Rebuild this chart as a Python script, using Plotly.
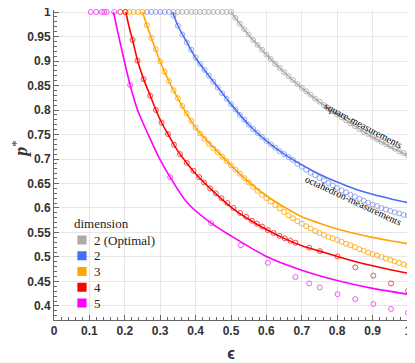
import plotly.graph_objects as go

# theoretical curves
eps_sq = [0.5, 0.525, 0.55, 0.575, 0.6, 0.65, 0.7, 0.75, 0.8, 0.85, 0.9, 0.95, 1.0]
p_sq = [1.0, 0.976, 0.953, 0.933, 0.913, 0.877, 0.845, 0.816, 0.791, 0.767, 0.745, 0.725, 0.707]

eps_d2 = [0.335, 0.35, 0.377, 0.405, 0.443, 0.5, 0.55, 0.6, 0.65, 0.7, 0.75, 0.8, 0.85, 0.9, 0.95, 1.0]
p_d2 = [1.0, 0.972, 0.936, 0.901, 0.865, 0.812, 0.770, 0.737, 0.710, 0.688, 0.669, 0.653, 0.639, 0.628, 0.619, 0.611]

eps_d3 = [0.25, 0.26, 0.278, 0.302, 0.33, 0.363, 0.405, 0.462, 0.5, 0.55, 0.6, 0.65, 0.7, 0.75, 0.8, 0.85, 0.9, 0.95, 1.0]
p_d3 = [1.0, 0.978, 0.941, 0.895, 0.851, 0.807, 0.759, 0.715, 0.687, 0.653, 0.625, 0.602, 0.582, 0.569, 0.557, 0.548, 0.540, 0.533, 0.527]

eps_d4 = [0.203, 0.212, 0.222, 0.236, 0.253, 0.272, 0.288, 0.304, 0.322, 0.339, 0.356, 0.375, 0.4, 0.45, 0.5,
          0.55, 0.6, 0.65, 0.7, 0.75, 0.8, 0.85, 0.9, 0.95, 1.0]
p_d4 = [1.0, 0.97, 0.943, 0.901, 0.863, 0.829, 0.8, 0.774, 0.751, 0.729, 0.71, 0.692, 0.670, 0.634, 0.602,
        0.577, 0.556, 0.538, 0.523, 0.512, 0.501, 0.491, 0.482, 0.474, 0.467]

eps_d5 = [0.168, 0.179, 0.198, 0.215, 0.236, 0.273, 0.3, 0.328, 0.377, 0.444, 0.5, 0.6, 0.7, 0.8, 0.9, 1.0]
p_d5 = [1.0, 0.963, 0.902, 0.851, 0.8, 0.739, 0.698, 0.663, 0.61, 0.569, 0.543, 0.501, 0.473, 0.452, 0.436, 0.424]

# measurements
eps_m_sq = [0.3375, 0.35, 0.3625, 0.375, 0.3875, 0.4, 0.4125, 0.425, 0.4375, 0.45, 0.4625, 0.475, 0.4875, 0.5,
            0.5125, 0.525, 0.5375, 0.55, 0.5625, 0.575, 0.5875, 0.6, 0.6125, 0.625, 0.6375, 0.65, 0.6625, 0.675,
            0.6875, 0.7, 0.7125, 0.725, 0.7375, 0.75, 0.7625, 0.775, 0.7875, 0.8, 0.8125, 0.825, 0.8375, 0.85,
            0.8625, 0.875, 0.8875, 0.9, 0.9125, 0.925, 0.9375, 0.95, 0.9625, 0.975, 0.9875, 1.0]
p_m_sq = [1, 1, 1, 1, 1, 1, 1, 1, 1, 1, 1, 1, 1, 1,
          0.988, 0.976, 0.965, 0.954, 0.943, 0.933, 0.923, 0.913, 0.904, 0.894, 0.886, 0.877, 0.869, 0.861,
          0.853, 0.845, 0.838, 0.831, 0.823, 0.817, 0.810, 0.803, 0.797, 0.791, 0.785, 0.779, 0.773, 0.767,
          0.761, 0.756, 0.751, 0.745, 0.740, 0.735, 0.730, 0.726, 0.721, 0.716, 0.712, 0.707]

eps_m_oct = [0.2625, 0.275, 0.2875, 0.3, 0.3125, 0.325, 0.3375, 0.35, 0.3625, 0.375, 0.3875, 0.4, 0.4125, 0.425,
             0.4375, 0.45, 0.4625, 0.475, 0.4875, 0.5, 0.5125, 0.525, 0.5375, 0.55, 0.5625, 0.575, 0.5875, 0.6,
             0.6125, 0.625, 0.6375, 0.65, 0.6625, 0.675, 0.6875, 0.7, 0.7125, 0.725, 0.7375, 0.75, 0.7625, 0.775,
             0.7875, 0.8, 0.8125, 0.825, 0.8375, 0.85, 0.8625, 0.875, 0.8875, 0.9, 0.9125, 0.925, 0.9375, 0.95,
             0.9625, 0.975, 0.9875, 1.0]
p_m_oct = [1, 1, 1, 1, 1, 1, 0.993, 0.972, 0.954, 0.938, 0.923, 0.907, 0.894, 0.882,
           0.870, 0.858, 0.846, 0.834, 0.823, 0.812, 0.801, 0.790, 0.780, 0.770, 0.761, 0.753, 0.745, 0.737,
           0.730, 0.723, 0.716, 0.710, 0.704, 0.698, 0.690, 0.684, 0.678, 0.672, 0.667, 0.661, 0.656, 0.651,
           0.646, 0.641, 0.636, 0.632, 0.627, 0.623, 0.619, 0.615, 0.611, 0.607, 0.604, 0.600, 0.597, 0.594,
           0.591, 0.589, 0.586, 0.584]

eps_m3 = [0.2, 0.2125, 0.225, 0.2375, 0.25, 0.2625, 0.275, 0.2875, 0.3, 0.3125, 0.325, 0.3375, 0.35, 0.3625,
          0.375, 0.3875, 0.4, 0.4125, 0.425, 0.4375, 0.45, 0.4625, 0.475, 0.4875, 0.5, 0.5125, 0.525, 0.5375,
          0.55, 0.5625, 0.575, 0.5875, 0.6, 0.6125, 0.625, 0.6375, 0.65, 0.6625, 0.675, 0.6875, 0.7, 0.7125,
          0.725, 0.7375, 0.75, 0.7625, 0.775, 0.7875, 0.8, 0.8125, 0.825, 0.8375, 0.85, 0.8625, 0.875, 0.8875,
          0.9, 0.9125, 0.925, 0.9375, 0.95, 0.9625, 0.975, 0.9875, 1.0]
p_m3 = [1, 1, 1, 1, 1, 0.973, 0.947, 0.924, 0.899, 0.878, 0.859, 0.840, 0.824, 0.808,
        0.793, 0.778, 0.764, 0.752, 0.741, 0.731, 0.722, 0.714, 0.705, 0.696, 0.687, 0.678, 0.670, 0.661,
        0.652, 0.643, 0.635, 0.627, 0.620, 0.613, 0.606, 0.599, 0.592, 0.585, 0.579, 0.573, 0.568, 0.563,
        0.558, 0.553, 0.549, 0.545, 0.541, 0.538, 0.535, 0.531, 0.527, 0.524, 0.520, 0.516, 0.513, 0.509,
        0.506, 0.503, 0.500, 0.497, 0.494, 0.491, 0.488, 0.485, 0.482]

eps_m4 = [0.187, 0.202, 0.222, 0.236, 0.253, 0.272, 0.288, 0.304, 0.322, 0.339, 0.356, 0.375, 0.394, 0.41, 0.424,
          0.441, 0.457, 0.473, 0.49, 0.507, 0.526, 0.543, 0.559, 0.573, 0.588, 0.604, 0.62, 0.637, 0.652, 0.668,
          0.682, 0.721, 0.751, 0.801, 0.851, 0.902, 0.952, 1.0]
p_m4 = [1, 1, 0.943, 0.901, 0.863, 0.829, 0.800, 0.774, 0.751, 0.729, 0.710, 0.692, 0.676, 0.663, 0.652,
        0.640, 0.630, 0.620, 0.610, 0.600, 0.590, 0.582, 0.574, 0.568, 0.562, 0.555, 0.549, 0.543, 0.538, 0.533,
        0.529, 0.519, 0.512, 0.501, 0.479, 0.462, 0.446, 0.431]

eps_m5 = [0.104, 0.119, 0.135, 0.142, 0.149, 0.17, 0.215, 0.328, 0.444, 0.528, 0.604, 0.682, 0.721, 0.751,
          0.801, 0.851, 0.902, 0.952, 1.0]
p_m5 = [1, 1, 1, 1, 1, 1, 0.851, 0.663, 0.569, 0.524, 0.488, 0.459, 0.446, 0.438,
        0.424, 0.414, 0.404, 0.394, 0.386]

legend_names = ['2 (Optimal)', '2', '3', '4', '5']
colors = ['rgb(170,170,170)', 'rgb(70,110,250)', 'rgb(255,165,0)', 'rgb(255,0,0)', 'rgb(255,0,255)']

fig = go.Figure()

# measurement markers
meas = [(eps_m_sq, p_m_sq, 'rgba(175,175,175,0.9)'),
        (eps_m_oct, p_m_oct, 'rgba(110,135,230,0.7)'),
        (eps_m3, p_m3, 'rgba(255,170,20,0.9)'),
        (eps_m4, p_m4, 'rgba(235,50,50,0.85)'),
        (eps_m5, p_m5, 'rgba(245,60,245,0.85)')]
for ex, py, c in meas:
    fig.add_trace(go.Scatter(x=ex, y=py, mode='markers', showlegend=False, cliponaxis=False,
                             marker=dict(symbol='circle-open', size=5, color=c, line=dict(width=1))))

# theory curves
curves = [(eps_sq, p_sq), (eps_d2, p_d2), (eps_d3, p_d3), (eps_d4, p_d4), (eps_d5, p_d5)]
for (ex, py), c, name in zip(curves, colors, legend_names):
    fig.add_trace(go.Scatter(x=ex, y=py, mode='lines', name=name, showlegend=False,
                             line=dict(color=c, width=1.6, shape='spline', smoothing=0.8)))

# legend box, drawn in paper coordinates
serif = 'Liberation Serif'
fig.add_annotation(x=0.052, y=0.31, xref='paper', yref='paper', xanchor='left', yanchor='middle',
                   text='dimension', showarrow=False, font=dict(family=serif, size=13, color='#222'))
for i, (name, c) in enumerate(zip(legend_names, colors)):
    yc = 0.258 - i * 0.0508
    fig.add_shape(type='rect', xref='paper', yref='paper', x0=0.066, x1=0.092,
                  y0=yc - 0.0145, y1=yc + 0.0145, fillcolor=c, line=dict(width=0))
    fig.add_annotation(x=0.106, y=yc, xref='paper', yref='paper', xanchor='left', yanchor='middle',
                       text=name, showarrow=False, font=dict(family=serif, size=13, color='#222'))

fig.add_annotation(x=0.875, y=0.768, text='square-measurements', showarrow=False, textangle=28,
                   font=dict(family=serif, size=10, color='black'))
fig.add_annotation(x=0.846, y=0.616, text='octahedron-measurements', showarrow=False, textangle=25,
                   font=dict(family=serif, size=10, color='black'))

# y axis title, placed a little above the middle as in the original
fig.add_annotation(x=-0.095, y=0.55, xref='paper', yref='paper', xanchor='center', yanchor='middle',
                   text='<b><i>p</i></b><sup>*</sup>', showarrow=False, textangle=-90,
                   font=dict(family=serif, size=18, color='#333'))

tickfont = dict(family='Liberation Sans', size=12, color='#333', weight='bold')
# the page body adds an 8px offset, so the figure is 8px smaller and margins shifted
fig.update_layout(
    width=407, height=355,
    margin=dict(l=46, r=7, t=2, b=43),
    plot_bgcolor='white', paper_bgcolor='white',
    showlegend=False,
    xaxis=dict(range=[0, 1.0], dtick=0.1, showgrid=True, gridcolor='#e6e6e6', gridwidth=1,
               zeroline=False, showline=True, linecolor='#666', linewidth=1, automargin=False,
               ticks='inside', ticklen=5, tickcolor='#666', tickfont=tickfont, ticklabeloverflow='allow',
               minor=dict(dtick=0.02, ticks='inside', ticklen=3, tickcolor='#666', showgrid=False),
               title=dict(text='<b>ϵ</b>', font=dict(family='Liberation Sans', size=16, color='#333'), standoff=10)),
    yaxis=dict(range=[0.3714, 1.0041], dtick=0.05, showgrid=True, gridcolor='#e6e6e6', gridwidth=1,
               zeroline=False, showline=True, linecolor='#666', linewidth=1, automargin=False,
               ticks='inside', ticklen=5, tickcolor='#666', tickfont=tickfont, ticklabeloverflow='allow',
               minor=dict(dtick=0.01, ticks='inside', ticklen=3, tickcolor='#666', showgrid=False)),
)

fig.write_html("out.html")
